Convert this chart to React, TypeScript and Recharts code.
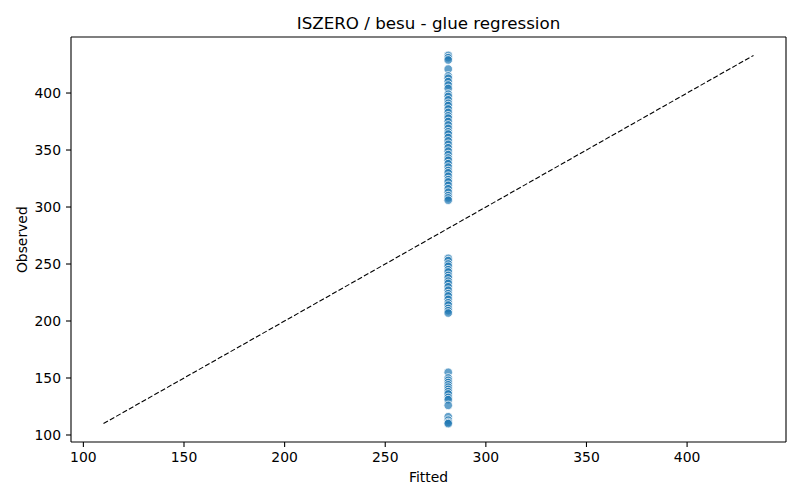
import React from "react";
import {
  ScatterChart,
  Scatter,
  XAxis,
  YAxis,
  ReferenceLine,
} from "recharts";

// every point has the same fitted value
const fittedValue = 281.3;

const observedHigh = [
  433, 431, 429, 421, 415, 413, 410, 407, 404, 399, 397, 394, 391, 389, 386,
  383, 380, 378, 375, 372, 369, 366, 364, 361, 358, 355, 352, 349, 346, 343,
  341, 338, 335, 332, 330, 327, 324, 322, 319, 316, 313, 310, 308, 306,
];
const observedMid = [
  255, 253, 250, 248, 245, 243, 240, 238, 235, 233, 230, 227, 224, 222, 219,
  216, 214, 211, 209, 207,
];
const observedLow = [
  155, 150, 148, 146, 144, 142, 140, 138, 136, 133, 131, 126, 116, 113, 111,
  110,
];

const xTicks = [100, 150, 200, 250, 300, 350, 400];
const yTicks = [100, 150, 200, 250, 300, 350, 400];

const observed = [...observedHigh, ...observedMid, ...observedLow];
const points = observed.map((y) => ({ fitted: fittedValue, observed: y }));

const lo = Math.min(...observed);
const hi = Math.max(...observed);
const pad = (hi - lo) * 0.05;
const domain: [number, number] = [lo - pad, hi + pad];

const FONT = "DejaVu Sans, sans-serif";
const tickStyle = { fill: "#000", fontSize: 13.9, fontFamily: FONT };

const Dot = (props: any) => (
  <circle
    cx={props.cx}
    cy={props.cy}
    r={4.3}
    fill="#1f77b4"
    fillOpacity={0.7}
    stroke="#fff"
    strokeWidth={0.8}
  />
);

export default function App() {
  return (
    <div style={{ position: "relative", width: 800, height: 500, background: "#fff" }}>
      <style>{"body{margin:0}"}</style>
      <ScatterChart
        width={800}
        height={500}
        margin={{ top: 37, right: 14, bottom: 0, left: 0 }}
      >
        <XAxis
          type="number"
          dataKey="fitted"
          domain={domain}
          ticks={xTicks}
          height={58}
          tickSize={5}
          tickMargin={5}
          tick={tickStyle}
          stroke="#000"
          strokeWidth={1.1}
          allowDataOverflow
        />
        <YAxis
          type="number"
          dataKey="observed"
          domain={domain}
          ticks={yTicks}
          width={71}
          tickSize={5}
          tickMargin={5}
          tick={tickStyle}
          stroke="#000"
          strokeWidth={1.1}
          allowDataOverflow
        />
        <ReferenceLine y={domain[1]} stroke="#000" strokeWidth={1.1} />
        <ReferenceLine x={domain[1]} stroke="#000" strokeWidth={1.1} />
        <ReferenceLine
          segment={[
            { x: lo, y: lo },
            { x: hi, y: hi },
          ]}
          stroke="#000"
          strokeWidth={1.1}
          strokeDasharray="5.1 2.2"
        />
        <Scatter data={points} shape={Dot} isAnimationActive={false} />
      </ScatterChart>
      <svg
        width={800}
        height={500}
        style={{ position: "absolute", left: 0, top: 0, pointerEvents: "none" }}
      >
        <text
          x={428.5}
          y={29}
          textAnchor="middle"
          fontFamily={FONT}
          fontSize={16.7}
          fill="#000"
        >
          ISZERO / besu - glue regression
        </text>
        <text
          x={428.5}
          y={482}
          textAnchor="middle"
          fontFamily={FONT}
          fontSize={13.9}
          fill="#000"
        >
          Fitted
        </text>
        <text
          x={27}
          y={239.7}
          textAnchor="middle"
          fontFamily={FONT}
          fontSize={13.9}
          fill="#000"
          transform="rotate(-90 27 239.7)"
        >
          Observed
        </text>
      </svg>
    </div>
  );
}
